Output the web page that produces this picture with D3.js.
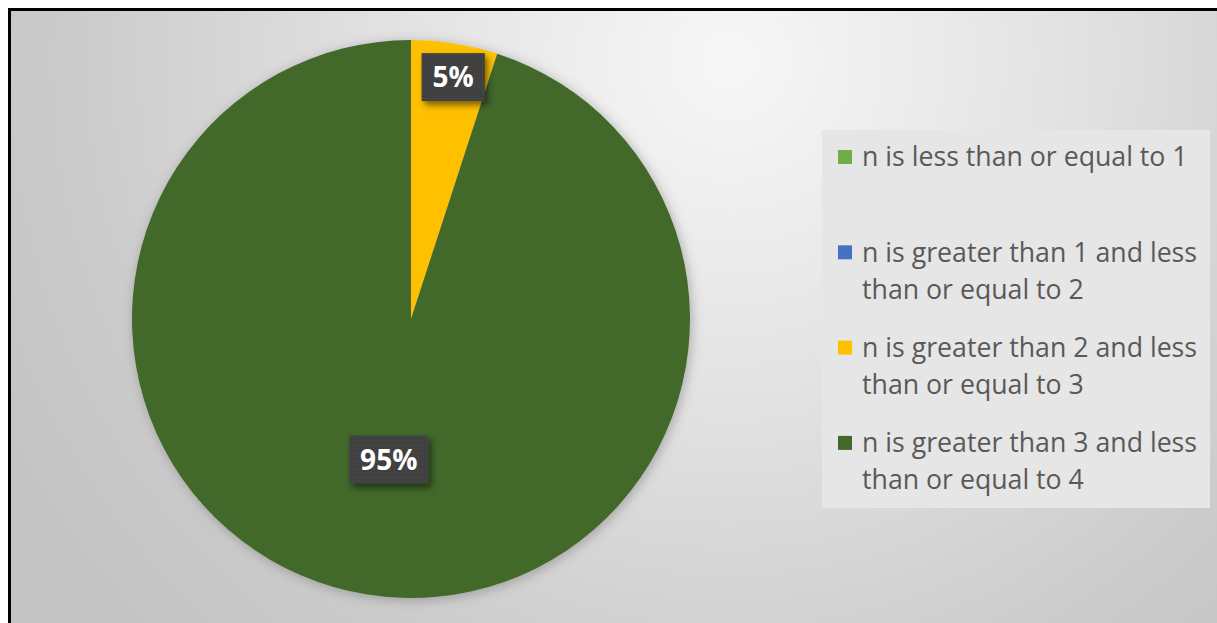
<!DOCTYPE html>
<html>
<head>
<meta charset="utf-8">
<script src="https://cdn.jsdelivr.net/npm/d3@7"></script>
<style>
  html, body { margin: 0; padding: 0; background: #fff; }
  svg { display: block; }
</style>
</head>
<body>
<svg id="chart" width="1217" height="623"></svg>
<script>
// chart data
const categories = [
  "n is less than or equal to 1",
  "n is greater than 1 and less than or equal to 2",
  "n is greater than 2 and less than or equal to 3",
  "n is greater than 3 and less than or equal to 4"
];
const shares = [0, 0, 5, 95];
const sliceColors = ["#70AD47", "#4472C4", "#FFC000", "#43682B"];

const W = 1217, H = 623;
const svg = d3.select('#chart');
const defs = svg.append('defs');

// background gradient
const bg = defs.append('radialGradient')
  .attr('id', 'bggrad')
  .attr('gradientUnits', 'userSpaceOnUse')
  .attr('cx', 730).attr('cy', 60).attr('r', 820);
[[0, '#f7f7f7'], [0.4, '#e3e3e3'], [0.8, '#cbcbcb'], [1, '#c4c4c4']].forEach(s => {
  bg.append('stop').attr('offset', s[0]).attr('stop-color', s[1]);
});

// dotted pattern for data label boxes
const pat = defs.append('pattern')
  .attr('id', 'dots')
  .attr('patternUnits', 'userSpaceOnUse')
  .attr('width', 4).attr('height', 4);
pat.append('rect').attr('width', 4).attr('height', 4).attr('fill', '#3f3f3f');
pat.append('rect').attr('x', 1).attr('y', 1).attr('width', 1).attr('height', 1).attr('fill', '#575757');

const shadow = defs.append('filter').attr('id', 'boxshadow')
  .attr('x', '-30%').attr('y', '-30%').attr('width', '160%').attr('height', '160%');
shadow.append('feDropShadow')
  .attr('dx', 3).attr('dy', 4).attr('stdDeviation', 3)
  .attr('flood-color', '#000').attr('flood-opacity', 0.5);

const pieShadow = defs.append('filter').attr('id', 'pieshadow')
  .attr('x', '-20%').attr('y', '-20%').attr('width', '140%').attr('height', '140%');
pieShadow.append('feDropShadow')
  .attr('dx', 2).attr('dy', 2).attr('stdDeviation', 6)
  .attr('flood-color', '#000').attr('flood-opacity', 0.25);

svg.append('rect')
  .attr('x', 9.5).attr('y', 9.5)
  .attr('width', W).attr('height', H)
  .attr('fill', 'url(#bggrad)')
  .attr('stroke', '#000')
  .attr('stroke-width', 3);

// pie
const cx = 411, cy = 319, R = 279;
const pie = d3.pie().sort(null).value(d => d.v);
const arcs = pie(shares.map((v, i) => ({v: v, i: i})));
const arc = d3.arc().innerRadius(0).outerRadius(R);

const g = svg.append('g').attr('transform', `translate(${cx},${cy})`);
g.append('g').attr('filter', 'url(#pieshadow)')
  .selectAll('path')
  .data(arcs.filter(d => d.data.v > 0))
  .join('path')
  .attr('d', arc)
  .attr('fill', d => sliceColors[d.data.i]);

// data labels (best fit: small slice near rim, big slice mid-radius)
const total = d3.sum(shares);
const labels = g.selectAll('g.lbl')
  .data(arcs.filter(d => d.data.v > 0))
  .join('g')
  .attr('class', 'lbl')
  .attr('transform', d => {
    const small = d.data.v / total < 0.1;
    const a = small ? d.startAngle + (d.endAngle - d.startAngle) * 0.55 : (d.startAngle + d.endAngle) / 2;
    const r = small ? R * 0.88 : R * 0.51;
    return `translate(${Math.sin(a) * r},${-Math.cos(a) * r})`;
  });

labels.append('text')
  .attr('text-anchor', 'middle')
  .attr('dy', '0.36em')
  .attr('fill', '#fff')
  .style('font-family', '"Open Sans", "DejaVu Sans", sans-serif')
  .style('font-weight', 'bold')
  .style('font-size', '28px')
  .text(d => Math.round(d.data.v / total * 100) + '%');

labels.each(function() {
  const t = d3.select(this).select('text');
  const w = t.node().getComputedTextLength() + 22;
  d3.select(this).insert('rect', 'text')
    .attr('x', -w / 2).attr('y', -24)
    .attr('width', w).attr('height', 48)
    .attr('fill', 'url(#dots)')
    .attr('filter', 'url(#boxshadow)');
});

// legend
const legX = 822, legY = 130, legW = 388, legH = 378;
svg.append('rect')
  .attr('x', legX).attr('y', legY)
  .attr('width', legW).attr('height', legH)
  .attr('fill', '#e6e6e6');

const slot = 95.3, lineH = 37, maxW = 345;
const leg = svg.append('g');
categories.forEach((c, i) => {
  const y0 = 157 + i * slot;
  leg.append('rect')
    .attr('x', 838).attr('y', y0 - 7)
    .attr('width', 14).attr('height', 14)
    .attr('fill', sliceColors[i]);
  const t = leg.append('text')
    .attr('x', 862).attr('y', y0)
    .attr('dy', '0.35em')
    .attr('fill', '#595959')
    .style('font-family', '"Open Sans", "DejaVu Sans", sans-serif')
    .style('font-size', '26.7px');
  // word wrap
  const words = c.split(' ');
  let line = [];
  let ts = t.append('tspan').attr('x', 862);
  words.forEach(wd => {
    line.push(wd);
    ts.text(line.join(' '));
    if (ts.node().getComputedTextLength() > maxW && line.length > 1) {
      line.pop();
      ts.text(line.join(' '));
      line = [wd];
      ts = t.append('tspan').attr('x', 862).attr('dy', lineH).text(wd);
    }
  });
});
</script>
</body>
</html>
